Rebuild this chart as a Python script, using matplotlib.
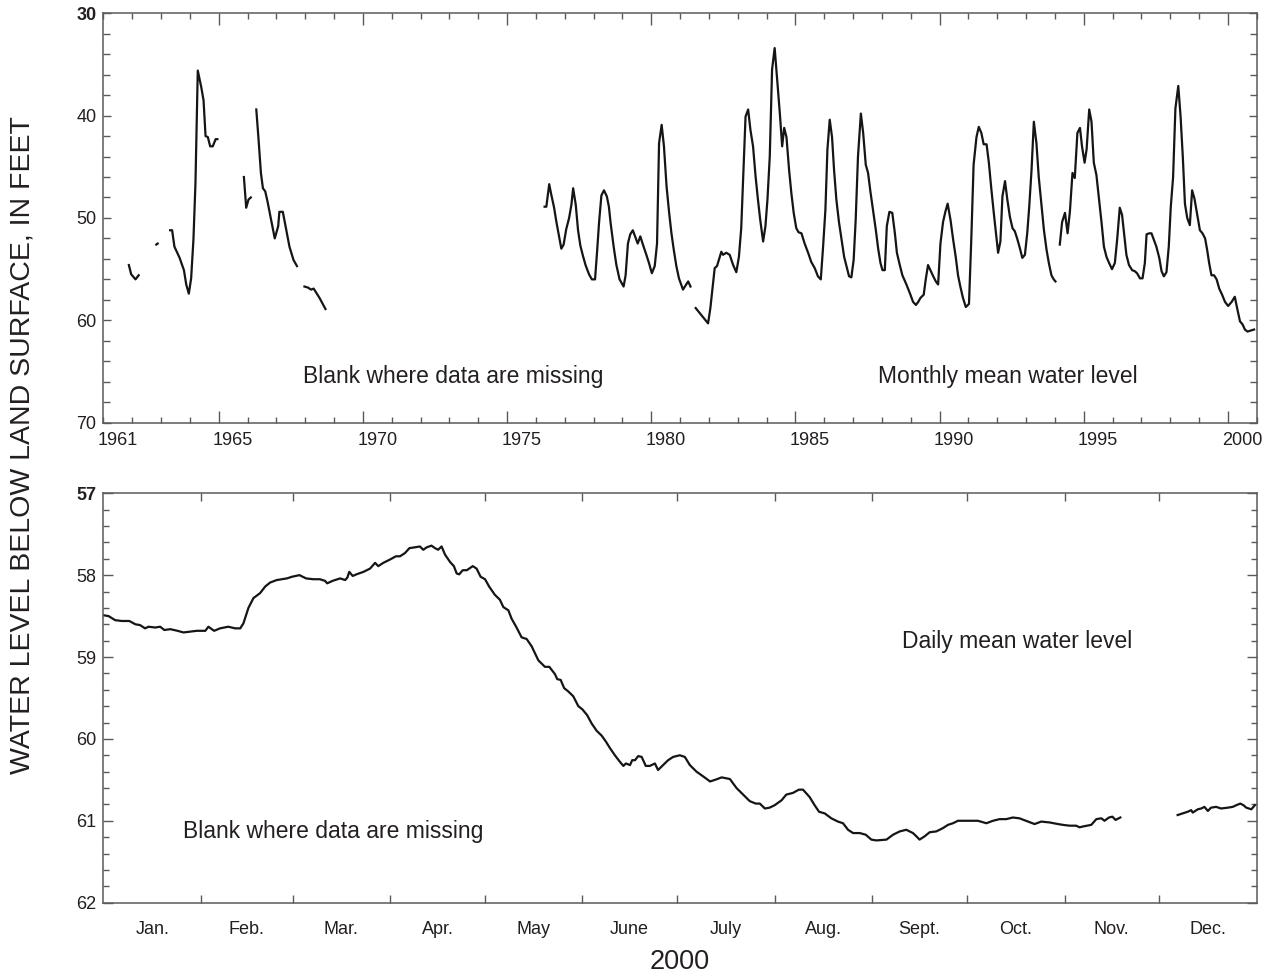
import matplotlib
matplotlib.use("Agg")
import matplotlib.pyplot as plt
from matplotlib.ticker import MultipleLocator, FixedLocator, NullFormatter

nan = float("nan")

# Monthly mean water level (feet below land surface), nan = data missing
MONTH_YEAR = [
    1961.88, 1961.96, 1962.11, 1962.22, nan,
    1962.83, 1962.88, nan,
    1963.31, 1963.38, 1963.46, 1963.64, 1963.79, 1963.87, 1963.96, 1964.04, 1964.12, 1964.19,
    1964.27, 1964.39, 1964.47, 1964.54, 1964.62, 1964.70, 1964.79, 1964.89, 1964.95, nan,
    1965.87, 1965.95, 1966.03, 1966.11, nan,
    1966.30, 1966.38, 1966.46, 1966.53, 1966.61, 1966.69, 1966.78, 1966.94, 1967.06, 1967.10,
    1967.22, 1967.34, 1967.45, 1967.59, 1967.71, nan,
    1967.97, 1968.09, 1968.20, 1968.29, 1968.49, 1968.70, nan,
    1976.30, 1976.36, 1976.46, 1976.53, 1976.63, 1976.71, 1976.80, 1976.88, 1976.96, 1977.05,
    1977.15, 1977.23, 1977.29, 1977.38, 1977.46, 1977.54, 1977.63, 1977.72, 1977.84, 1977.94,
    1978.05, 1978.12, 1978.19, 1978.27, 1978.36, 1978.46, 1978.53, 1978.59, 1978.70, 1978.79,
    1978.90, 1979.04, 1979.11, 1979.19, 1979.27, 1979.36, 1979.44, 1979.53, 1979.62, 1979.71,
    1979.83, 1979.92, 1980.02, 1980.12, 1980.20, 1980.27, 1980.36, 1980.44, 1980.53, 1980.62,
    1980.70, 1980.78, 1980.87, 1980.96, 1981.10, 1981.19, 1981.28, 1981.36, nan,
    1981.54, 1981.97, 1982.05, 1982.20, 1982.28, 1982.43, 1982.49, 1982.60, 1982.72, 1982.84,
    1982.95, 1983.04, 1983.12, 1983.20, 1983.27, 1983.36, 1983.44, 1983.53, 1983.62, 1983.70,
    1983.78, 1983.88, 1983.96, 1984.03, 1984.11, 1984.19, 1984.28, 1984.36, 1984.46, 1984.54,
    1984.61, 1984.69, 1984.78, 1984.86, 1984.94, 1985.03, 1985.11, 1985.21, 1985.32, 1985.44,
    1985.55, 1985.67, 1985.78, 1985.88, 1985.96, 1986.04, 1986.11, 1986.19, 1986.27, 1986.34,
    1986.42, 1986.51, 1986.60, 1986.69, 1986.77, 1986.86, 1986.94, 1987.02, 1987.09, 1987.17,
    1987.27, 1987.35, 1987.44, 1987.52, 1987.60, 1987.69, 1987.79, 1987.87, 1987.95, 1988.02,
    1988.10, 1988.17, 1988.26, 1988.36, 1988.45, 1988.52, 1988.62, 1988.71, 1988.85, 1988.99,
    1989.08, 1989.18, 1989.26, 1989.34, 1989.45, 1989.52, 1989.60, 1989.68, 1989.78, 1989.87,
    1989.95, 1990.03, 1990.12, 1990.20, 1990.28, 1990.38, 1990.47, 1990.56, 1990.64, 1990.72,
    1990.81, 1990.91, 1991.02, 1991.10, 1991.18, 1991.28, 1991.36, 1991.45, 1991.53, 1991.63,
    1991.71, 1991.80, 1991.88, 1991.97, 1992.03, 1992.11, 1992.18, 1992.27, 1992.35, 1992.44,
    1992.53, 1992.61, 1992.69, 1992.78, 1992.87, 1992.96, 1993.04, 1993.11, 1993.19, 1993.27,
    1993.36, 1993.44, 1993.54, 1993.62, 1993.71, 1993.79, 1993.88, 1993.96, 1994.02, nan,
    1994.17, 1994.25, 1994.35, 1994.44, 1994.52, 1994.61, 1994.69, 1994.78, 1994.87, 1994.94,
    1995.03, 1995.10, 1995.19, 1995.27, 1995.35, 1995.44, 1995.52, 1995.62, 1995.70, 1995.79,
    1995.88, 1995.98, 1996.08, 1996.16, 1996.25, 1996.33, 1996.40, 1996.48, 1996.57, 1996.68,
    1996.77, 1996.85, 1996.95, 1997.04, 1997.12, 1997.18, 1997.27, 1997.35, 1997.43, 1997.52,
    1997.62, 1997.70, 1997.78, 1997.87, 1997.95, 1998.02, 1998.10, 1998.18, 1998.28, 1998.36,
    1998.44, 1998.51, 1998.59, 1998.68, 1998.76, 1998.84, 1998.94, 1999.03, 1999.12, 1999.21,
    1999.28, 1999.35, 1999.43, 1999.52, 1999.61, 1999.70, 1999.80, 1999.90, 2000.01, 2000.13,
    2000.24, 2000.32, 2000.42, 2000.51, 2000.59, 2000.68, 2000.79, 2000.91,
]
MONTH_LEVEL = [
    54.6, 55.5, 56.0, 55.6, nan,
    52.6, 52.5, nan,
    51.2, 51.2, 52.8, 53.9, 55.1, 56.5, 57.4, 55.9, 52.1, 46.6,
    35.6, 37.2, 38.5, 42.0, 42.1, 43.0, 43.0, 42.3, 42.3, nan,
    46.0, 49.0, 48.2, 48.0, nan,
    39.4, 42.4, 45.6, 47.1, 47.4, 48.4, 49.7, 52.0, 50.8, 49.4,
    49.4, 51.2, 52.8, 54.1, 54.7, nan,
    56.7, 56.8, 57.0, 56.9, 57.8, 58.9, nan,
    48.9, 48.9, 46.7, 47.7, 49.0, 50.4, 51.8, 53.0, 52.6, 51.1,
    50.0, 48.7, 47.1, 48.7, 51.2, 52.7, 53.7, 54.6, 55.5, 56.0,
    56.0, 53.3, 50.4, 47.8, 47.3, 47.9, 48.9, 50.5, 52.9, 54.6,
    56.0, 56.7, 55.6, 52.5, 51.6, 51.2, 51.8, 52.5, 51.8, 52.6,
    53.6, 54.4, 55.4, 54.7, 52.5, 42.7, 40.9, 43.0, 46.9, 49.5,
    51.5, 53.1, 54.7, 55.9, 57.0, 56.6, 56.2, 56.7, nan,
    58.8, 60.3, 58.8, 54.9, 54.7, 53.3, 53.6, 53.4, 53.6, 54.6,
    55.3, 53.8, 51.0, 45.3, 40.1, 39.4, 41.4, 43.0, 46.0, 48.2,
    50.2, 52.3, 50.8, 48.2, 44.0, 35.5, 33.4, 36.3, 39.8, 43.0,
    41.2, 42.1, 45.3, 47.6, 49.5, 51.0, 51.4, 51.5, 52.5, 53.4,
    54.3, 54.9, 55.7, 56.0, 52.8, 49.2, 43.3, 40.4, 42.1, 45.3,
    48.2, 50.4, 52.1, 53.8, 54.7, 55.7, 55.8, 54.1, 50.2, 44.0,
    39.8, 41.7, 44.8, 45.6, 47.4, 49.2, 51.2, 53.0, 54.4, 55.1,
    55.1, 50.8, 49.4, 49.5, 51.5, 53.4, 54.6, 55.6, 56.5, 57.5,
    58.2, 58.5, 58.2, 57.8, 57.5, 56.0, 54.6, 55.1, 55.7, 56.2,
    56.5, 52.5, 50.4, 49.4, 48.6, 50.2, 52.1, 53.8, 55.6, 56.7,
    57.8, 58.7, 58.4, 52.1, 44.8, 42.1, 41.1, 41.7, 42.8, 42.8,
    44.6, 47.3, 49.5, 51.8, 53.4, 52.3, 47.9, 46.4, 48.2, 49.9,
    51.0, 51.3, 52.0, 52.9, 53.9, 53.6, 51.5, 48.9, 45.3, 40.6,
    42.7, 46.0, 48.9, 51.2, 53.1, 54.4, 55.6, 56.0, 56.2, nan,
    52.6, 50.4, 49.5, 51.5, 49.4, 45.6, 46.1, 41.7, 41.2, 43.0,
    44.6, 43.3, 39.4, 40.6, 44.6, 45.8, 47.9, 50.5, 52.8, 53.8,
    54.4, 55.0, 54.4, 52.1, 49.0, 49.7, 51.5, 53.6, 54.6, 55.1,
    55.2, 55.4, 55.9, 55.9, 54.4, 51.6, 51.5, 51.5, 52.1, 52.8,
    53.9, 55.2, 55.7, 55.3, 52.8, 48.9, 46.0, 39.3, 37.1, 40.1,
    44.2, 48.6, 50.0, 50.7, 47.3, 48.1, 49.7, 51.2, 51.5, 52.0,
    53.1, 54.4, 55.6, 55.6, 56.0, 56.9, 57.5, 58.2, 58.6, 58.2,
    57.7, 58.8, 60.1, 60.4, 60.9, 61.1, 61.0, 60.9,
]
YEAR_LABELS = [1961, 1965, 1970, 1975, 1980, 1985, 1990, 1995, 2000]

# Daily mean water level for 2000 (day of year, feet below land surface)
DAY = [
    0.0, 1.6, 3.7, 5.8, 8.2, 10.1, 11.6, 13.2, 14.3, 16.4, 18.0, 19.3, 21.2, 23.5, 25.4, 27.5,
    29.6, 32.3, 33.3, 35.1, 37.0, 39.6, 41.8, 43.4, 44.4, 46.0, 47.6, 49.7, 51.3, 52.9, 55.0,
    58.2, 59.8, 62.2, 64.3, 66.6, 68.7, 70.3, 71.0, 72.7, 75.1, 76.7, 77.4, 78.0, 79.1, 80.3,
    82.5, 84.6, 86.2, 87.2, 88.8, 90.9, 92.8, 94.1, 95.7, 97.1, 98.9, 100.4, 101.5, 102.6,
    104.1, 105.2, 106.2, 107.3, 108.4, 110.0, 111.2, 112.1, 112.9, 114.0, 115.3, 117.2, 118.4,
    119.7, 121.1, 122.4, 124.2, 125.8, 126.9, 128.5, 129.5, 131.1, 132.7, 134.3, 135.9, 138.0,
    140.1, 141.5, 143.3, 144.0, 145.1, 146.2, 147.5, 149.1, 150.7, 152.0, 153.5, 154.9, 156.5,
    158.1, 159.4, 160.7, 162.3, 163.9, 165.0, 165.8, 167.1, 167.8, 168.7, 169.7, 170.8, 172.1,
    173.4, 175.0, 176.0, 177.6, 179.2, 180.8, 182.9, 184.5, 186.1, 188.2, 190.4, 192.5, 194.1,
    196.2, 198.8, 200.9, 203.0, 205.1, 207.0, 208.3, 209.9, 211.4, 213.0, 215.2, 216.7, 218.8,
    220.7, 222.0, 224.1, 225.7, 227.1, 228.9, 231.0, 233.1, 234.7, 236.3, 237.9, 240.0, 241.9,
    243.7, 245.3, 248.5, 250.6, 252.7, 254.8, 256.9, 258.0, 259.0, 260.6, 262.2, 264.3, 266.4,
    268.0, 269.6, 271.2, 273.3, 275.4, 277.5, 280.2, 282.3, 284.4, 286.5, 288.6, 290.7, 292.8,
    295.5, 297.6, 300.2, 302.9, 304.5, 306.6, 308.7, 309.8, 310.8, 313.5, 315.1, 316.7, 317.7,
    319.1, 320.2, 321.2, 322.7, nan,
    340.9, 342.5, 344.1, 345.2, 345.7, 347.3, 348.4, 349.4, 350.5, 351.5, 353.1, 354.7, 356.8,
    358.4, 359.5, 360.8, 361.8, 362.7, 364.3, 365.4,
]
DAY_LEVEL = [
    58.49, 58.50, 58.55, 58.56, 58.56, 58.60, 58.61, 58.65, 58.63, 58.64, 58.63, 58.67, 58.66,
    58.68, 58.70, 58.69, 58.68, 58.68, 58.63, 58.68, 58.65, 58.63, 58.65, 58.65, 58.59, 58.40,
    58.28, 58.22, 58.14, 58.09, 58.06, 58.04, 58.02, 58.00, 58.04, 58.05, 58.05, 58.07, 58.10,
    58.07, 58.04, 58.06, 58.03, 57.96, 58.01, 57.99, 57.96, 57.92, 57.85, 57.89, 57.85, 57.81,
    57.77, 57.77, 57.73, 57.67, 57.66, 57.65, 57.69, 57.66, 57.64, 57.67, 57.69, 57.65, 57.75,
    57.84, 57.89, 57.98, 57.99, 57.94, 57.94, 57.89, 57.92, 58.02, 58.05, 58.14, 58.24, 58.30,
    58.39, 58.43, 58.53, 58.64, 58.76, 58.78, 58.87, 59.04, 59.12, 59.12, 59.21, 59.27, 59.28,
    59.38, 59.42, 59.48, 59.60, 59.64, 59.71, 59.81, 59.90, 59.96, 60.03, 60.11, 60.20, 60.28,
    60.33, 60.30, 60.32, 60.26, 60.26, 60.21, 60.22, 60.33, 60.33, 60.30, 60.38, 60.32, 60.26,
    60.22, 60.20, 60.22, 60.32, 60.40, 60.46, 60.52, 60.50, 60.47, 60.49, 60.60, 60.68, 60.76,
    60.79, 60.79, 60.85, 60.84, 60.81, 60.75, 60.68, 60.66, 60.62, 60.62, 60.71, 60.81, 60.89,
    60.91, 60.97, 61.01, 61.03, 61.11, 61.15, 61.15, 61.17, 61.23, 61.24, 61.23, 61.17, 61.13,
    61.11, 61.15, 61.19, 61.23, 61.19, 61.14, 61.13, 61.09, 61.05, 61.03, 61.00, 61.00, 61.00,
    61.00, 61.03, 61.00, 60.98, 60.98, 60.96, 60.97, 61.00, 61.04, 61.01, 61.02, 61.04, 61.05,
    61.06, 61.06, 61.08, 61.07, 61.05, 60.98, 60.97, 61.00, 60.96, 60.95, 60.99, 60.96, nan,
    60.93, 60.91, 60.89, 60.87, 60.90, 60.86, 60.85, 60.83, 60.88, 60.84, 60.83, 60.85, 60.84,
    60.83, 60.81, 60.79, 60.81, 60.84, 60.86, 60.81,
]
MONTH_NAMES = ["Jan.", "Feb.", "Mar.", "Apr.", "May", "June", "July", "Aug.",
               "Sept.", "Oct.", "Nov.", "Dec."]
MONTH_START = [0, 31, 60, 91, 121, 152, 182, 213, 244, 274, 305, 335, 366]

TEXT = "#231f20"
FRAME = "#5a5a5a"

plt.rcParams["font.family"] = ["Liberation Sans", "DejaVu Sans"]

fig = plt.figure(figsize=(12.73, 9.75), dpi=100)
ax1 = fig.add_axes([0.0813, 0.5665, 0.9059, 0.4199])
ax2 = fig.add_axes([0.0813, 0.0742, 0.9059, 0.4199])

for ax in (ax1, ax2):
    for sp in ax.spines.values():
        sp.set_color(FRAME)
        sp.set_linewidth(1.1)
    ax.tick_params(which="both", direction="in", top=True, right=True,
                   color=FRAME, width=1.0, labelcolor=TEXT, labelsize=13, pad=5)

# --- top panel: monthly means ---
ax1.plot(MONTH_YEAR, MONTH_LEVEL, color="#151515", lw=1.6)
ax1.set_xlim(1961, 2001)
ax1.set_ylim(70, 30)
ax1.xaxis.set_major_locator(MultipleLocator(5))
ax1.xaxis.set_minor_locator(MultipleLocator(1))
ax1.xaxis.set_major_formatter(NullFormatter())
ax1.yaxis.set_major_locator(MultipleLocator(10))
ax1.yaxis.set_minor_locator(MultipleLocator(2))
ax1.tick_params(axis="x", which="major", length=8.5)
ax1.tick_params(axis="x", which="minor", length=4.3)
ax1.tick_params(axis="y", which="major", length=6)
ax1.tick_params(axis="y", which="minor", length=5)
for yr in YEAR_LABELS:
    ax1.annotate(str(yr), xy=(yr + 0.5, 0), xycoords=("data", "axes fraction"),
                 xytext=(0, -12.5), textcoords="offset points",
                 ha="center", va="center", fontsize=13, color=TEXT)
ax1.text(0.173, 0.1116, "Blank where data are missing", transform=ax1.transAxes,
         fontsize=16.5, color=TEXT, va="center", ha="left")
ax1.text(0.6715, 0.1116, "Monthly mean water level", transform=ax1.transAxes,
         fontsize=16.5, color=TEXT, va="center", ha="left")

# --- bottom panel: daily means for 2000 ---
ax2.plot(DAY, DAY_LEVEL, color="#151515", lw=1.6)
ax2.set_xlim(0, 366)
ax2.set_ylim(62, 57)
ax2.xaxis.set_major_locator(FixedLocator(MONTH_START[1:-1]))
ax2.xaxis.set_major_formatter(NullFormatter())
mids = [(a + b) / 2 for a, b in zip(MONTH_START[:-1], MONTH_START[1:])]
ax2.xaxis.set_minor_locator(FixedLocator(mids))
ax2.set_xticklabels(MONTH_NAMES, minor=True)
ax2.tick_params(axis="x", which="major", length=5.5)
ax2.tick_params(axis="x", which="minor", length=0, pad=19, labelsize=13)
for lab in ax2.get_xticklabels(minor=True):
    lab.set_verticalalignment("center")
ax2.yaxis.set_major_locator(MultipleLocator(1))
ax2.yaxis.set_minor_locator(MultipleLocator(0.2))
ax2.tick_params(axis="y", which="major", length=7)
ax2.tick_params(axis="y", which="minor", length=4.5)
ax2.text(0.0691, 0.1734, "Blank where data are missing", transform=ax2.transAxes,
         fontsize=16.5, color=TEXT, va="center", ha="left")
ax2.text(0.6922, 0.6375, "Daily mean water level", transform=ax2.transAxes,
         fontsize=16.5, color=TEXT, va="center", ha="left")

fig.text(680 / 1273, 1 - 962 / 975, "2000", ha="center", va="center",
         fontsize=19.5, color=TEXT)
fig.text(23 / 1273, 1 - 445 / 975, "WATER LEVEL BELOW LAND SURFACE, IN FEET",
         rotation=90, ha="center", va="center", fontsize=20.5, color=TEXT)

# top-most depth labels are printed bold in the original
fig.canvas.draw()
for ax, top in ((ax1, 30), (ax2, 57)):
    for tick in ax.yaxis.get_major_ticks():
        if abs(tick.get_loc() - top) < 1e-6:
            tick.label1.set_fontweight("bold")

fig.savefig("out.png", dpi=100)
